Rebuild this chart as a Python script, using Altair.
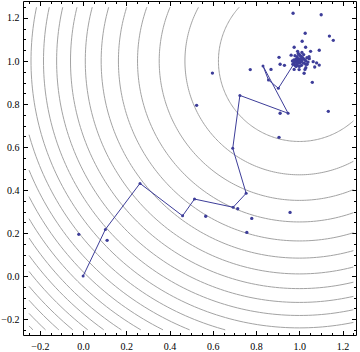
import altair as alt
import numpy as np
import pandas as pd

alt.data_transformers.disable_max_rows()

# ---- data ----
contour_levels = [0.14, 0.28, 0.42, 0.56, 0.70, 0.84, 0.98, 1.12, 1.26, 1.40, 1.54,
                  1.68, 1.82, 1.96, 2.10, 2.24, 2.38, 2.52, 2.66, 2.80, 2.94, 3.08]
contour_center = [1.0, 1.0]
contour_region = [-0.25, 1.25]

path_x = [0.0, 0.103, 0.263, 0.46, 0.515, 0.694, 0.754, 0.692, 0.725, 0.948,
          0.832, 0.857, 0.903, 0.98, 0.99, 1.005, 0.995, 1.01, 1.0]
path_y = [0.0, 0.217, 0.431, 0.28, 0.358, 0.32, 0.385, 0.594, 0.84, 0.757,
          0.977, 0.912, 0.873, 0.995, 0.99, 1.0, 1.01, 0.995, 1.0]

scatter_x = [-0.02, 0.111, 0.525, 0.598, 0.567, 0.715, 0.757, 0.78, 0.957, 0.906,
             0.911, 1.134, 0.773, 0.869, 0.906, 0.911, 0.931, 0.962, 0.976, 0.971,
             1.101, 1.027, 1.139, 1.157, 1.013, 1.029, 1.052, 1.092, 1.046, 1.092,
             1.071, 1.036, 1.026, 0.999, 0.976, 1.06, 1.064, 1.08, 1.022, 1.03,
             0.99, 1.00, 1.01, 1.00, 0.98, 1.02, 0.99, 1.01, 0.975, 1.00,
             1.03, 0.98, 1.02, 0.99, 1.01, 0.995, 1.005, 0.985, 1.015, 1.005,
             0.975, 1.025, 0.99, 1.01, 1.0, 0.97, 1.035, 0.995, 1.04, 0.985,
             1.02, 0.968, 1.0, 1.03, 0.98, 1.012, 0.992, 1.045]
scatter_y = [0.194, 0.166, 0.794, 0.944, 0.278, 0.313, 0.203, 0.268, 0.296, 0.645,
             0.757, 0.766, 0.96, 0.961, 1.017, 0.985, 0.98, 1.027, 1.064, 1.222,
             1.215, 1.129, 1.116, 1.096, 1.092, 1.064, 1.045, 1.05, 1.011, 0.981,
             0.972, 0.985, 0.961, 0.96, 0.961, 0.901, 0.997, 0.991, 0.943, 0.969,
             1.00, 1.01, 1.00, 0.99, 1.00, 1.01, 1.02, 0.98, 0.99, 1.03,
             1.00, 0.98, 0.99, 0.98, 1.02, 1.005, 0.995, 1.01, 1.015, 1.025,
             1.005, 1.005, 0.99, 1.01, 1.0, 0.985, 1.015, 1.035, 0.995, 0.975,
             1.03, 1.0, 0.975, 0.985, 1.025, 1.04, 1.045, 1.02]

major_ticks = [-0.2, 0.0, 0.2, 0.4, 0.6, 0.8, 1.0, 1.2]
minor_ticks = [-0.25, -0.15, -0.1, -0.05, 0.05, 0.1, 0.15, 0.25, 0.3, 0.35, 0.45, 0.5,
               0.55, 0.65, 0.7, 0.75, 0.85, 0.9, 0.95, 1.05, 1.1, 1.15, 1.25]

x_domain = [-0.278, 1.262]
y_domain = [-0.274, 1.279]

# ---- contour geometry (circles of the levels, clipped to the region) ----
lo, hi = contour_region
cx, cy = contour_center


def inside(r, t):
    x = cx + r * np.cos(t)
    y = cy + r * np.sin(t)
    return lo <= x <= hi and lo <= y <= hi


rows = []
seg = 0
for lev in contour_levels:
    r = float(np.sqrt(lev))
    ts = np.radians(np.arange(45.0, 406.0, 1.0))
    prev_in = inside(r, ts[0])
    idx = 0
    for k in range(1, len(ts)):
        t0, t1 = ts[k - 1], ts[k]
        cur_in = inside(r, t1)
        if cur_in != prev_in:
            a, b = t0, t1
            for _ in range(30):
                m = 0.5 * (a + b)
                if inside(r, m) == prev_in:
                    a = m
                else:
                    b = m
                tb = 0.5 * (a + b)
            if cur_in:
                seg += 1
                rows.append(dict(seg=seg, i=idx, x=cx + r * np.cos(tb), y=cy + r * np.sin(tb)))
                idx += 1
            else:
                rows.append(dict(seg=seg, i=idx, x=cx + r * np.cos(tb), y=cy + r * np.sin(tb)))
                idx += 1
        if cur_in:
            rows.append(dict(seg=seg, i=idx, x=cx + r * np.cos(t1), y=cy + r * np.sin(t1)))
            idx += 1
        prev_in = cur_in

cdf = pd.DataFrame(rows)
pdf = pd.DataFrame({"x": path_x, "y": path_y, "i": list(range(len(path_x)))})
sdf = pd.DataFrame({"x": scatter_x, "y": scatter_y})

xscale = alt.Scale(domain=x_domain, zero=False, nice=False)
yscale = alt.Scale(domain=y_domain, zero=False, nice=False)

FONT = "Liberation Serif"


def make_axis(orient, values, size, labels, pad):
    kw = dict(orient=orient, values=values, tickSize=size, offset=-size,
              labels=labels, domain=False, grid=False, title=None,
              tickColor="black", tickWidth=1)
    if labels:
        kw.update(labelFont=FONT, labelFontSize=10, labelColor="black",
                  labelPadding=pad, format=".1f", labelFlush=False,
                  labelOverlap=False)
    return alt.Axis(**kw)


BLUE = "#3d3d99"

contours = alt.Chart(cdf).mark_line(color="#a3a3a3", strokeWidth=1).encode(
    x=alt.X("x:Q", scale=xscale, axis=make_axis("bottom", major_ticks, 4.5, True, 6.5)),
    y=alt.Y("y:Q", scale=yscale, axis=make_axis("left", major_ticks, 4.5, True, 4)),
    detail="seg:N",
    order="i:Q",
)

path_line = alt.Chart(pdf).mark_line(color=BLUE, strokeWidth=1).encode(
    x=alt.X("x:Q", scale=xscale, axis=make_axis("top", major_ticks, 4.5, False, 0)),
    y=alt.Y("y:Q", scale=yscale, axis=make_axis("right", major_ticks, 4.5, False, 0)),
    order="i:Q",
)

scatter = alt.Chart(sdf).mark_circle(size=11, color=BLUE, opacity=1).encode(
    x=alt.X("x:Q", scale=xscale, axis=make_axis("bottom", minor_ticks, 2.5, False, 0)),
    y=alt.Y("y:Q", scale=yscale, axis=make_axis("left", minor_ticks, 2.5, False, 0)),
)

path_pts = alt.Chart(pdf).mark_circle(size=9, color=BLUE, opacity=1).encode(
    x=alt.X("x:Q", scale=xscale, axis=make_axis("top", minor_ticks, 2.5, False, 0)),
    y=alt.Y("y:Q", scale=yscale, axis=make_axis("right", minor_ticks, 2.5, False, 0)),
)

chart = (
    alt.layer(contours, path_line, scatter, path_pts)
    .resolve_axis(x="independent", y="independent")
    .properties(
        width=333,
        height=334,
        autosize=alt.AutoSizeParams(type="none"),
        padding={"left": 23, "top": 1, "right": 4, "bottom": 17},
        background="white",
    )
    .configure_view(stroke="black", strokeWidth=1)
)

chart.save("out.html", embed_options={"renderer": "svg", "actions": False})
